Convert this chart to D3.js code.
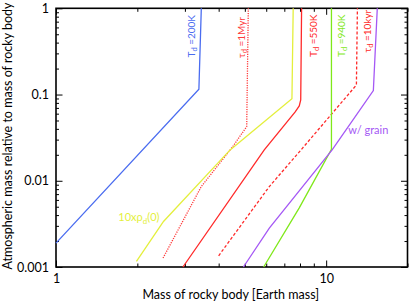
<!DOCTYPE html>
<html>
<head>
<meta charset="utf-8">
<script src="https://cdn.jsdelivr.net/npm/d3@7"></script>
<style>
  body { margin: 0; background: #fff; }
  svg { display: block; font-family: Lato, "Noto Sans", sans-serif; }
</style>
</head>
<body>
<div id="chart"></div>
<script>
'use strict'

// curves: [mass of rocky body, atmospheric mass ratio]
const blue200K   = [[1, 0.00189], [3.38, 0.115], [3.45, 1]]
const red1Myr    = [[2.49, 0.00127], [3.45, 0.00857], [4.51, 0.0249], [5.08, 0.0425], [5.15, 1]]
const yellow10x  = [[1.985, 0.00116], [2.50, 0.00337], [4.41, 0.0228], [7.47, 0.0896], [7.55, 1]]
const red550K    = [[2.95, 0.001], [5.90, 0.0228], [7.68, 0.0629], [7.95, 0.0738], [8.05, 0.0866], [8.11, 1]]
const red10kyr   = [[4.00, 0.00135], [6.16, 0.00857], [8.07, 0.0228], [12.94, 0.129], [13.05, 1]]
const green940K  = [[5.87, 0.001], [7.95, 0.00485], [10.46, 0.0232], [10.46, 1]]
const purpleGrain = [[4.94, 0.001], [6.16, 0.00282], [10.52, 0.0228], [14.95, 0.111], [15.46, 1]]

const xMajor = [1, 10]
const xMinor = [2, 3, 4, 5, 6, 7, 8, 9, 20]
const yMajor = [0.001, 0.01, 0.1, 1]
const yLabels = ['0.001', '0.01', '0.1', '1']

const margin = {left: 56, top: 8.3, right: 1.5, bottom: 36}
const W = 409, H = 303
const width = W - margin.left - margin.right
const height = H - margin.top - margin.bottom

const svg = d3.select('#chart').append('svg')
  .attr('width', W)
  .attr('height', H)

const g = svg.append('g')
  .attr('transform', 'translate(' + margin.left + ',' + margin.top + ')')

const x = d3.scaleLog().domain([1, 20]).range([0, width])
const y = d3.scaleLog().domain([0.001, 1]).range([height, 0])

let yMinor = []
yMajor.slice(0, 3).forEach(d => {
  for (let k = 2; k <= 9; k++) yMinor.push(d * k)
})

// ticks all point inward
function ticks(axis, vals, size, labels) {
  return axis.tickValues(vals).tickSize(-size).tickPadding(labels ? 7 : 0)
    .tickFormat(labels ? labels : () => '')
}

const axes = [
  [d3.axisBottom(x), 'translate(0,' + height + ')', 'b'],
  [d3.axisTop(x), 'translate(0,0)', 't'],
  [d3.axisLeft(y), 'translate(0,0)', 'l'],
  [d3.axisRight(y), 'translate(' + width + ',0)', 'r']
]

axes.forEach(([axis, tr, side]) => {
  const isX = side === 'b' || side === 't'
  const minor = isX ? xMinor : yMinor
  const major = isX ? xMajor : yMajor
  g.append('g').attr('transform', tr)
    .call(ticks(axis.scale(isX ? x : y), minor, isX ? 3.5 : 3))
  let fmt = null
  if (side === 'b') fmt = d => d === 1 ? '1' : '10'
  if (side === 'l') fmt = (d, i) => yLabels[i]
  g.append('g').attr('transform', tr).attr('class', 'major-' + side)
    .call(ticks(axis.scale(isX ? x : y).tickValues(major), major, 6.5, fmt))
})

g.selectAll('.domain').remove()
g.selectAll('.tick line').attr('stroke', '#000').attr('stroke-width', 1)
g.selectAll('.tick text').attr('fill', '#000').style('font-size', '12.5px')
  .style('font-family', 'Lato, "Noto Sans", sans-serif')

g.append('rect')
  .attr('width', width).attr('height', height)
  .attr('fill', 'none').attr('stroke', '#000').attr('stroke-width', 1.6)

const line = d3.line().x(d => x(d[0])).y(d => y(d[1]))

const curves = [
  {data: blue200K, color: '#4a6cf0', dash: null},
  {data: red1Myr, color: '#ff3a3a', dash: '1.2,1.2'},
  {data: yellow10x, color: '#e4ef3c', dash: null},
  {data: red550K, color: '#ff2a2a', dash: null},
  {data: red10kyr, color: '#ff2a2a', dash: '3,2'},
  {data: green940K, color: '#7fe81a', dash: null},
  {data: purpleGrain, color: '#a558f5', dash: null}
]

g.selectAll('path.curve').data(curves).enter()
  .append('path')
    .attr('class', 'curve')
    .attr('d', d => line(d.data))
    .attr('fill', 'none')
    .attr('stroke', d => d.color)
    .attr('stroke-width', 1.3)
    .attr('stroke-dasharray', d => d.dash)

// vertical labels, reading upward
const vlabels = [
  {sym: 'T', rest: ' =200K', color: '#4a6cf0', x: 195, y: 57.5},
  {sym: 'τ', rest: ' =1Myr', color: '#ff3a3a', x: 244.5, y: 58},
  {sym: 'T', rest: ' =550K', color: '#ff2a2a', x: 316.5, y: 57},
  {sym: 'T', rest: ' =940K', color: '#7fe81a', x: 345, y: 57},
  {sym: 'τ', rest: ' =10kyr', color: '#ff2a2a', x: 371, y: 52.5}
]

vlabels.forEach(l => {
  const t = svg.append('text')
    .attr('transform', 'translate(' + l.x + ',' + l.y + ') rotate(-90)')
    .attr('fill', l.color)
    .style('font-size', '10px')
  t.append('tspan').text(l.sym)
  t.append('tspan').attr('dy', 2.3).style('font-size', '7.5px').text('d')
  t.append('tspan').attr('dy', -2.3).text(l.rest)
})

const yl = svg.append('text')
  .attr('x', 118.3).attr('y', 221)
  .attr('fill', '#e4ef3c')
  .style('font-size', '11px')
yl.append('tspan').text('10xρ')
yl.append('tspan').attr('dy', 2.5).style('font-size', '8px').text('d')
yl.append('tspan').attr('dy', -2.5).text('(0)')

svg.append('text')
  .attr('x', 348.3).attr('y', 134)
  .attr('fill', '#a558f5')
  .style('font-size', '11px')
  .text('w/ grain')

svg.append('text')
  .attr('x', margin.left + width / 2 - 1).attr('y', 298.5)
  .attr('text-anchor', 'middle')
  .style('font-size', '12.5px')
  .text('Mass of rocky body [Earth mass]')

svg.append('text')
  .attr('transform', 'translate(12,136) rotate(-90)')
  .attr('text-anchor', 'middle')
  .style('font-size', '12.5px')
  .text('Atmospheric mass relative to mass of rocky body')
</script>
</body>
</html>
